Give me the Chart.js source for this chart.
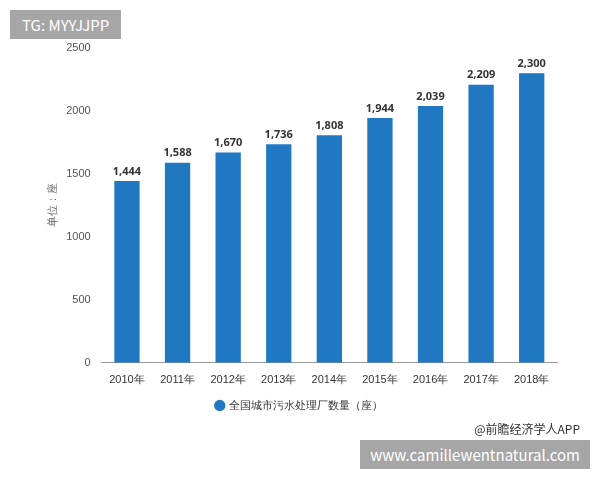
<!DOCTYPE html>
<html>
<head>
<meta charset="utf-8">
<script src="https://cdn.jsdelivr.net/npm/chart.js@4"></script>
<style>
  body { margin: 0; background: #fff; font-family: "Noto Sans CJK SC", "Noto Sans", sans-serif; }
  #wrap { position: relative; width: 600px; height: 480px; }
  #tag { position: absolute; left: 10px; top: 10px; background: #a6a6a6; color: #fff; font-size: 15px; padding: 4px 12px; }
  #url { position: absolute; right: 10px; top: 440px; background: #a6a6a6; color: #fff; font-size: 15px; padding: 4px 10px; }
  #src { position: absolute; right: 20px; top: 420px; font-size: 12px; color: #333; }
</style>
</head>
<body>
<div id="wrap">
  <canvas id="c" width="600" height="480"></canvas>
  <div id="tag">TG: MYYJJPP</div>
  <div id="src">@前瞻经济学人APP</div>
  <div id="url">www.camillewentnatural.com</div>
</div>
<script>
// 全国城市污水处理厂数量
const years = ["2010年", "2011年", "2012年", "2013年", "2014年", "2015年", "2016年", "2017年", "2018年"];
const plants = [1444, 1588, 1670, 1736, 1808, 1944, 2039, 2209, 2300];
const yTicks = [0, 500, 1000, 1500, 2000, 2500];

// 柱顶数值标签
const valueLabels = {
  id: "valueLabels",
  afterDatasetsDraw(chart) {
    const ctx = chart.ctx;
    ctx.save();
    ctx.font = "bold 11px 'Noto Sans', sans-serif";
    ctx.fillStyle = "#333";
    ctx.textAlign = "center";
    ctx.textBaseline = "bottom";
    chart.getDatasetMeta(0).data.forEach((bar, i) => {
      ctx.fillText(plants[i].toLocaleString("en-US"), bar.x, bar.y - 4);
    });
    ctx.restore();
  }
};

new Chart(document.getElementById("c").getContext("2d"), {
  type: "bar",
  data: {
    labels: years,
    datasets: [{
      label: "全国城市污水处理厂数量（座）",
      data: plants,
      backgroundColor: "#1f78c1",
      barPercentage: 0.5,
      categoryPercentage: 1
    }]
  },
  options: {
    responsive: false,
    animation: false,
    layout: { padding: { left: 42, right: 43, top: 48, bottom: 59 } },
    plugins: {
      legend: {
        position: "bottom",
        labels: { usePointStyle: true, pointStyle: "circle", boxWidth: 8, boxHeight: 8, color: "#333", font: { size: 11 } }
      },
      tooltip: { enabled: false }
    },
    scales: {
      x: {
        grid: { display: false },
        border: { color: "#999" },
        ticks: { color: "#333", font: { size: 11 } }
      },
      y: {
        min: 0, max: 2500,
        afterBuildTicks: axis => { axis.ticks = yTicks.map(v => ({ value: v })); },
        grid: { display: false },
        border: { display: false },
        ticks: { color: "#555", font: { size: 11 }, callback: v => String(v) },
        title: { display: true, text: "单位：座", color: "#666", font: { size: 11 } }
      }
    }
  },
  plugins: [valueLabels]
});
</script>
</body>
</html>
